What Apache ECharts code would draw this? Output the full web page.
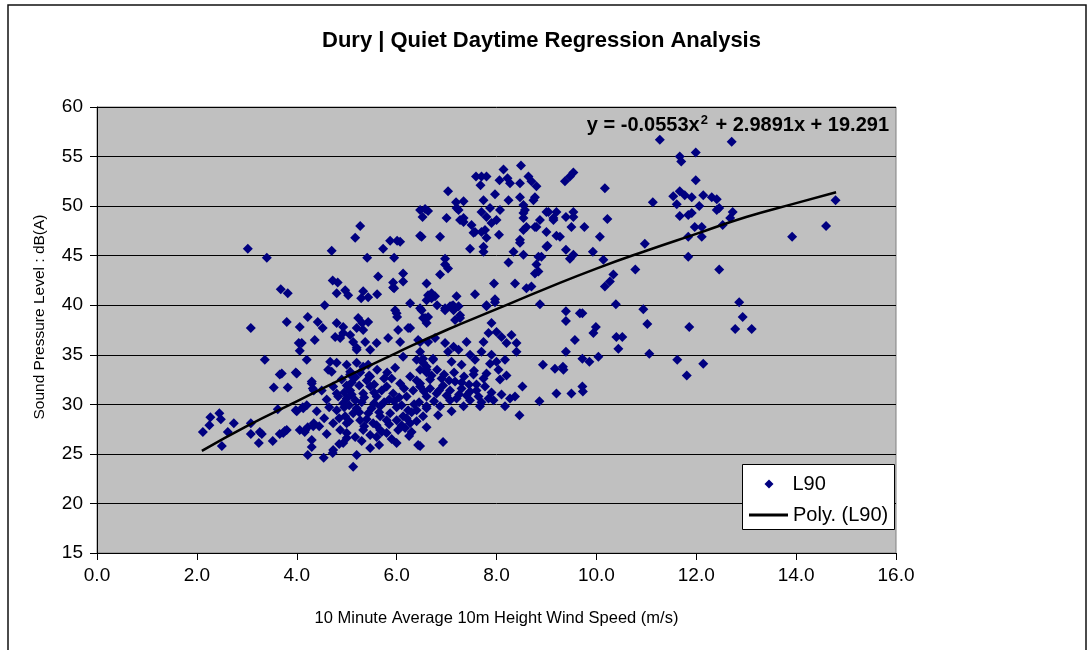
<!DOCTYPE html>
<html>
<head>
<meta charset="utf-8">
<title>Dury | Quiet Daytime Regression Analysis</title>
<script src="https://cdn.jsdelivr.net/npm/echarts@6/dist/echarts.min.js"></script>
<style>
  html, body { margin: 0; padding: 0; background: #fff; }
  #chart { width: 1088px; height: 650px; }
</style>
</head>
<body>
<div id="chart"></div>
<script>
// 风速 (m/s) 与 L90 (dB(A)) 的散点
var windSpeed = [
  2.12,2.25,2.27,2.45,2.48,2.62,2.5,2.74,3.08,3.08,3.08,3.26,3.30,3.24,3.52,3.36,3.02,3.40,3.68,3.82,
  3.80,3.66,3.98,3.54,3.82,3.62,3.66,3.76,3.70,3.80,3.73,4.06,4.22,4.10,4.20,4.36,4.06,4.04,4.30,4.34,
  4.00,3.98,4.12,4.20,4.06,4.22,4.34,4.16,4.30,4.30,4.22,4.54,4.56,4.42,4.52,4.70,4.80,4.97,5.03,4.72,
  4.82,5.33,5.43,5.61,5.29,5.93,5.93,5.95,6.13,6.13,5.63,6.60,6.63,6.70,6.27,6.47,6.53,6.63,6.60,6.81,
  6.97,5.27,5.17,5.41,5.73,5.87,6.01,5.95,6.47,6.07,4.80,4.93,4.87,5.07,5.20,5.31,5.33,5.43,5.23,4.93,
  5.13,5.20,5.37,5.47,5.60,5.83,6.03,6.07,6.23,6.00,5.97,6.01,6.47,6.63,6.73,6.53,6.81,6.60,6.67,6.43,
  6.47,5.20,4.67,4.63,4.80,5.00,5.07,5.17,5.33,5.47,4.70,5.20,5.43,5.07,5.27,5.61,5.81,5.97,6.13,6.40,
  6.47,6.60,6.27,4.77,4.30,4.32,
  4.73,4.83,4.93,5.07,5.17,5.33,5.47,5.60,5.67,5.80,5.93,6.07,6.20,6.33,6.47,6.60,4.80,4.97,5.13,5.27,
  5.43,5.53,5.67,5.87,6.00,6.13,6.27,6.40,4.73,4.87,5.00,5.17,5.33,5.47,5.67,5.80,6.03,6.17,6.60,6.53,
  4.00,4.13,4.17,4.33,4.40,4.73,5.13,5.20,5.47,6.00,6.43,6.40,6.60,6.23,4.72,4.93,5.00,6.93,
  4.90,5.00,5.10,5.25,5.40,5.55,5.70,5.85,5.00,5.30,5.50,5.75,6.10,6.35,4.95,5.20,5.40,5.60,5.80,6.10,
  5.05,4.85,5.30,5.60,5.90,4.60,4.50,4.65,4.55,4.45,4.60,4.85,5.65,6.25,6.55,6.45,
  5.10,5.35,5.55,5.75,5.95,6.15,6.30,4.95,5.15,5.45,5.65,5.90,6.20,6.40,5.05,5.25,5.55,5.85,6.05,4.80,
  5.00,5.35,5.70,6.00,6.30,
  8.49,8.14,7.59,7.70,7.80,7.68,8.06,8.22,8.27,8.47,8.64,8.70,8.80,7.03,7.97,7.74,8.24,8.47,8.77,7.19,
  7.34,7.24,6.47,6.63,6.52,6.57,7.00,7.70,7.87,8.07,8.00,7.90,7.80,7.27,7.34,7.50,7.54,8.54,8.57,8.74,
  8.54,8.60,8.77,8.87,9.00,9.14,9.00,6.87,6.50,7.77,7.80,8.05,7.47,7.74,7.74,8.47,8.34,8.54,9.00,8.90,
  9.20,6.97,6.97,7.03,6.87,8.24,8.80,8.84,6.70,6.77,6.60,7.20,7.57,7.95,8.37,8.60,8.70,7.97,7.80,7.07,
  7.13,8.87,7.20,7.34,7.57,7.70,8.54,8.54,8.47,8.84,8.77,7.24,7.14,7.27,7.17,7.27,7.80,7.97,6.97,7.10,
  6.57,6.50,6.27,
  7.90,7.84,8.00,8.10,8.30,8.20,8.40,8.40,7.40,7.74,7.70,7.90,8.00,8.17,6.77,6.97,7.03,7.14,7.24,6.53,
  6.73,6.60,6.90,7.10,7.30,7.47,7.57,7.54,7.74,7.87,8.04,8.07,6.47,6.67,6.80,6.93,7.07,7.17,7.30,7.47,
  7.64,7.77,6.60,6.83,6.87,7.07,7.20,7.34,7.47,7.67,7.84,7.94,8.17,8.27,8.37,8.52,8.46,6.47,
  6.95,7.15,7.35,7.60,7.00,7.25,6.75,7.40,6.70,7.10,7.60,7.90,8.10,
  7.05,7.30,7.55,7.80,6.85,7.45,7.70,8.20,
  9.37,9.47,9.54,10.17,11.13,9.04,9.20,9.39,9.54,9.54,9.14,8.80,9.50,9.76,10.22,10.07,9.27,9.02,9.39,9.47,
  9.54,9.93,10.14,10.97,10.78,10.34,10.27,10.17,9.39,9.39,9.67,9.72,9.99,9.94,9.57,10.39,10.94,11.02,10.40,10.52,
  10.44,9.39,9.72,9.86,10.04,11.06,8.93,9.17,9.34,9.20,9.50,9.72,9.73,8.86,9.33,
  11.27,12.71,11.67,11.70,11.99,11.99,11.54,11.67,11.77,11.91,11.61,12.14,12.31,12.41,12.06,11.91,11.67,11.84,12.41,12.46,
  12.73,12.68,11.97,12.11,12.53,11.84,12.11,11.84,12.46,14.79,14.60,13.92,12.86,12.93,12.78,13.11,11.86,11.62,11.81,12.14
];
var l90 = [
  27.2,27.9,28.7,29.1,28.5,27.2,25.8,28.1,37.7,28.1,27.0,27.2,27.0,26.1,26.3,34.5,45.7,44.8,41.6,41.2,
  38.3,33.0,33.2,31.7,31.7,29.5,27.0,27.3,33.1,27.4,27.1,37.8,38.8,36.2,34.5,36.5,35.4,36.2,32.3,31.4,
  33.1,29.4,29.7,29.9,27.4,27.7,28.1,27.2,26.4,25.7,24.9,24.6,40.0,38.3,37.7,45.5,41.2,41.5,41.0,42.5,
  42.3,41.4,40.8,41.1,40.7,41.8,42.3,41.7,43.2,42.4,42.9,42.2,41.0,40.7,40.2,39.7,38.7,38.8,38.2,40.0,
  39.5,48.0,46.8,44.8,45.7,46.5,46.5,44.8,47.0,46.4,38.2,37.8,36.7,37.0,37.7,38.2,37.5,38.3,38.7,37.2,
  36.3,35.5,36.3,35.5,36.2,36.7,37.5,36.3,37.7,39.2,39.5,38.8,36.3,36.3,34.5,34.2,33.5,33.5,32.5,36.5,
  35.3,35.7,34.3,33.5,34.2,34.0,33.3,32.7,33.8,32.8,33.3,34.2,34.0,33.0,33.2,33.5,33.2,33.7,34.8,34.5,
  33.5,33.2,32.8,36.8,32.1,31.6,
  31.8,30.8,30.1,31.4,30.4,31.1,31.8,30.8,29.8,31.8,31.1,32.1,30.8,31.4,31.8,30.8,29.4,28.8,29.1,28.4,
  29.1,28.1,28.8,29.1,28.4,28.8,28.1,28.3,28.1,27.4,27.1,26.7,27.4,26.9,27.4,27.1,27.4,27.6,29.6,28.8,
  29.3,29.6,27.4,27.8,29.3,25.4,23.7,24.9,25.6,26.1,25.9,29.4,27.7,29.4,25.1,26.1,26.6,26.2,
  32.5,31.9,32.2,31.9,32.4,32.0,31.4,30.5,30.6,30.2,29.6,30.2,29.9,30.0,29.7,29.6,28.5,27.9,28.4,27.9,
  28.3,28.6,26.3,26.7,26.5,30.5,31.4,29.7,28.6,27.8,27.0,26.0,25.9,26.8,31.3,30.2,
  31.0,30.7,31.2,32.6,30.3,31.6,29.2,31.2,32.8,32.9,29.2,32.6,28.6,32.4,29.9,29.2,30.1,28.0,30.7,31.1,
  28.1,27.8,27.2,29.7,27.2,
  54.1,53.7,53.0,53.0,53.0,52.1,52.6,52.8,52.3,52.3,53.0,52.5,52.0,51.5,51.2,50.6,50.6,50.9,50.9,50.4,
  50.5,49.6,49.6,49.5,48.9,49.7,48.8,49.4,49.8,49.6,48.6,48.3,48.9,48.6,48.4,48.1,47.3,50.1,49.6,50.6,
  48.8,47.9,47.9,48.6,49.4,48.8,47.4,46.9,46.9,47.6,46.8,47.1,45.7,45.9,45.4,46.6,45.4,45.1,45.9,44.9,
  47.0,44.7,44.1,43.7,43.1,44.3,44.1,43.4,41.2,40.9,40.5,40.9,41.1,42.2,42.2,41.7,41.9,40.6,40.0,39.9,
  40.0,40.1,49.8,48.8,47.4,47.4,49.3,47.6,46.3,44.9,43.2,39.9,39.5,39.0,38.5,38.7,39.9,40.3,39.7,39.9,
  38.7,39.5,37.7,
  38.2,37.2,37.3,36.8,37.0,36.2,36.2,35.3,36.3,36.3,35.3,35.0,34.3,34.5,36.7,36.2,35.3,35.8,35.5,34.6,
  34.6,33.8,32.6,34.3,34.0,35.0,34.5,33.0,32.6,34.1,33.5,32.5,32.1,31.6,31.1,31.9,31.4,32.3,31.6,31.3,
  30.8,31.8,29.8,28.9,29.8,30.4,30.6,29.8,30.4,29.8,30.6,30.4,29.8,30.6,30.8,31.8,28.9,25.8,
  33.0,33.2,32.8,32.0,30.9,31.0,30.3,30.9,32.9,29.3,31.4,31.2,31.0,
  32.4,32.2,33.4,33.1,31.4,32.0,30.2,32.9,
  52.5,53.0,53.4,51.8,50.4,49.4,49.4,48.9,49.4,48.9,48.6,47.9,47.9,47.9,48.7,46.9,46.9,46.0,45.6,44.7,
  45.1,45.4,44.6,46.2,43.6,43.1,42.4,41.9,39.4,38.4,39.2,39.2,37.8,37.2,36.5,40.1,39.6,38.1,36.8,36.8,
  35.6,35.3,34.6,34.3,34.8,35.1,34.0,33.6,33.5,31.1,31.1,31.8,31.3,30.3,33.8,
  56.7,56.5,55.0,54.5,55.4,52.6,51.0,51.5,51.1,50.9,50.2,51.1,50.9,50.7,50.0,49.3,49.0,49.1,49.6,49.8,
  49.4,48.8,47.9,47.9,48.1,46.9,46.9,44.9,43.6,50.6,48.0,46.9,40.3,38.8,37.6,37.6,37.8,34.5,32.9,34.1
];

// 二次趋势线 Poly. (L90)，按图上曲线读点
var trendX = [2.1, 3, 4, 5, 6, 7, 8, 9, 10, 11, 12, 13, 14, 14.8];
var trendY = [25.3, 27.8, 30.3, 32.8, 35.2, 37.5, 39.6, 41.7, 43.7, 45.5, 47.2, 48.9, 50.3, 51.4];

var xTicks = [0, 2, 4, 6, 8, 10, 12, 14, 16];
var yTicks = [15, 20, 25, 30, 35, 40, 45, 50, 55, 60];

var points = [];
for (var i = 0; i < windSpeed.length; i++) {
  points.push([windSpeed[i], l90[i]]);
}
var trend = [];
for (var j = 0; j < trendX.length; j++) {
  trend.push([trendX[j], trendY[j]]);
}

var font = 'Liberation Sans, Arial, sans-serif';
var chart = echarts.init(document.getElementById('chart'));
var option = {
  animation: false,
  backgroundColor: '#fff',
  title: {
    text: 'Dury | Quiet Daytime Regression Analysis',
    left: 322,
    top: 30,
    padding: 0,
    textStyle: { fontFamily: font, fontSize: 22, fontWeight: 'bold', color: '#000' }
  },
  grid: {
    left: 97, top: 107, width: 799, height: 446,
    show: true,
    backgroundColor: '#c0c0c0',
    borderColor: '#808080',
    borderWidth: 1
  },
  xAxis: {
    type: 'value',
    min: xTicks[0],
    max: xTicks[xTicks.length - 1],
    interval: 2,
    name: '10 Minute Average 10m Height Wind Speed (m/s)',
    nameLocation: 'middle',
    nameGap: 57,
    nameTextStyle: { fontFamily: font, fontSize: 16.5, color: '#000' },
    axisLine: { lineStyle: { color: '#000', width: 1 } },
    axisTick: { length: 7, lineStyle: { color: '#000' } },
    axisLabel: {
      fontFamily: font, fontSize: 19, color: '#000', margin: 13,
      formatter: function (v) { return v.toFixed(1); }
    },
    splitLine: { show: false }
  },
  yAxis: {
    type: 'value',
    min: yTicks[0],
    max: yTicks[yTicks.length - 1],
    interval: 5,
    name: 'Sound Pressure Level : dB(A)',
    nameLocation: 'middle',
    nameGap: 49,
    nameTextStyle: { fontFamily: font, fontSize: 15.5, color: '#000', padding: [0, 0, 0, 26] },
    axisLine: { show: true, lineStyle: { color: '#000', width: 1 } },
    axisTick: { show: true, length: 7, lineStyle: { color: '#000' } },
    axisLabel: { fontFamily: font, fontSize: 19, color: '#000', margin: 14 },
    splitLine: { lineStyle: { color: '#000', width: 1 } }
  },
  legend: [
    {
      left: 764.5,
      top: 474,
      padding: 0,
      itemWidth: 9,
      itemHeight: 9,
      z: 20,
      data: [{ name: 'L90', icon: 'diamond' }],
      textStyle: { fontFamily: font, fontSize: 20, color: '#000', padding: [0, 0, 0, 14] }
    },
    {
      left: 749,
      top: 505,
      padding: 0,
      itemWidth: 39,
      itemHeight: 3,
      z: 20,
      data: [{ name: 'Poly. (L90)', icon: 'rect', itemStyle: { color: '#000' } }],
      textStyle: { fontFamily: font, fontSize: 20, color: '#000' }
    }
  ],
  graphic: [
    {
      type: 'rect', z: 10,
      shape: { x: 742.5, y: 464.5, width: 152, height: 65 },
      style: { fill: '#fff', stroke: '#000', lineWidth: 1 }
    },
    {
      type: 'rect', z: 0, silent: true,
      shape: { x: 8, y: 5, width: 1078, height: 700 },
      style: { fill: 'none', stroke: '#111', lineWidth: 1.5 }
    },
    {
      type: 'text', z: 20,
      x: 889, y: 125,
      style: {
        text: '{a|y = -0.0553x}{s|2}{a| + 2.9891x + 19.291}',
        align: 'right',
        verticalAlign: 'middle',
        rich: {
          a: { fontFamily: font, fontSize: 20, fontWeight: 'bold', fill: '#000' },
          s: { fontFamily: font, fontSize: 13, fontWeight: 'bold', fill: '#000', padding: [0, 2, 10, 1] }
        }
      }
    }
  ],
  series: [
    {
      name: 'L90',
      type: 'scatter',
      symbol: 'diamond',
      symbolSize: 10,
      itemStyle: { color: '#000080', opacity: 1 },
      data: points
    },
    {
      name: 'Poly. (L90)',
      type: 'line',
      smooth: true,
      symbol: 'none',
      lineStyle: { color: '#000', width: 2.5 },
      itemStyle: { color: '#000' },
      data: trend
    }
  ]
};
chart.setOption(option);
</script>
</body>
</html>
